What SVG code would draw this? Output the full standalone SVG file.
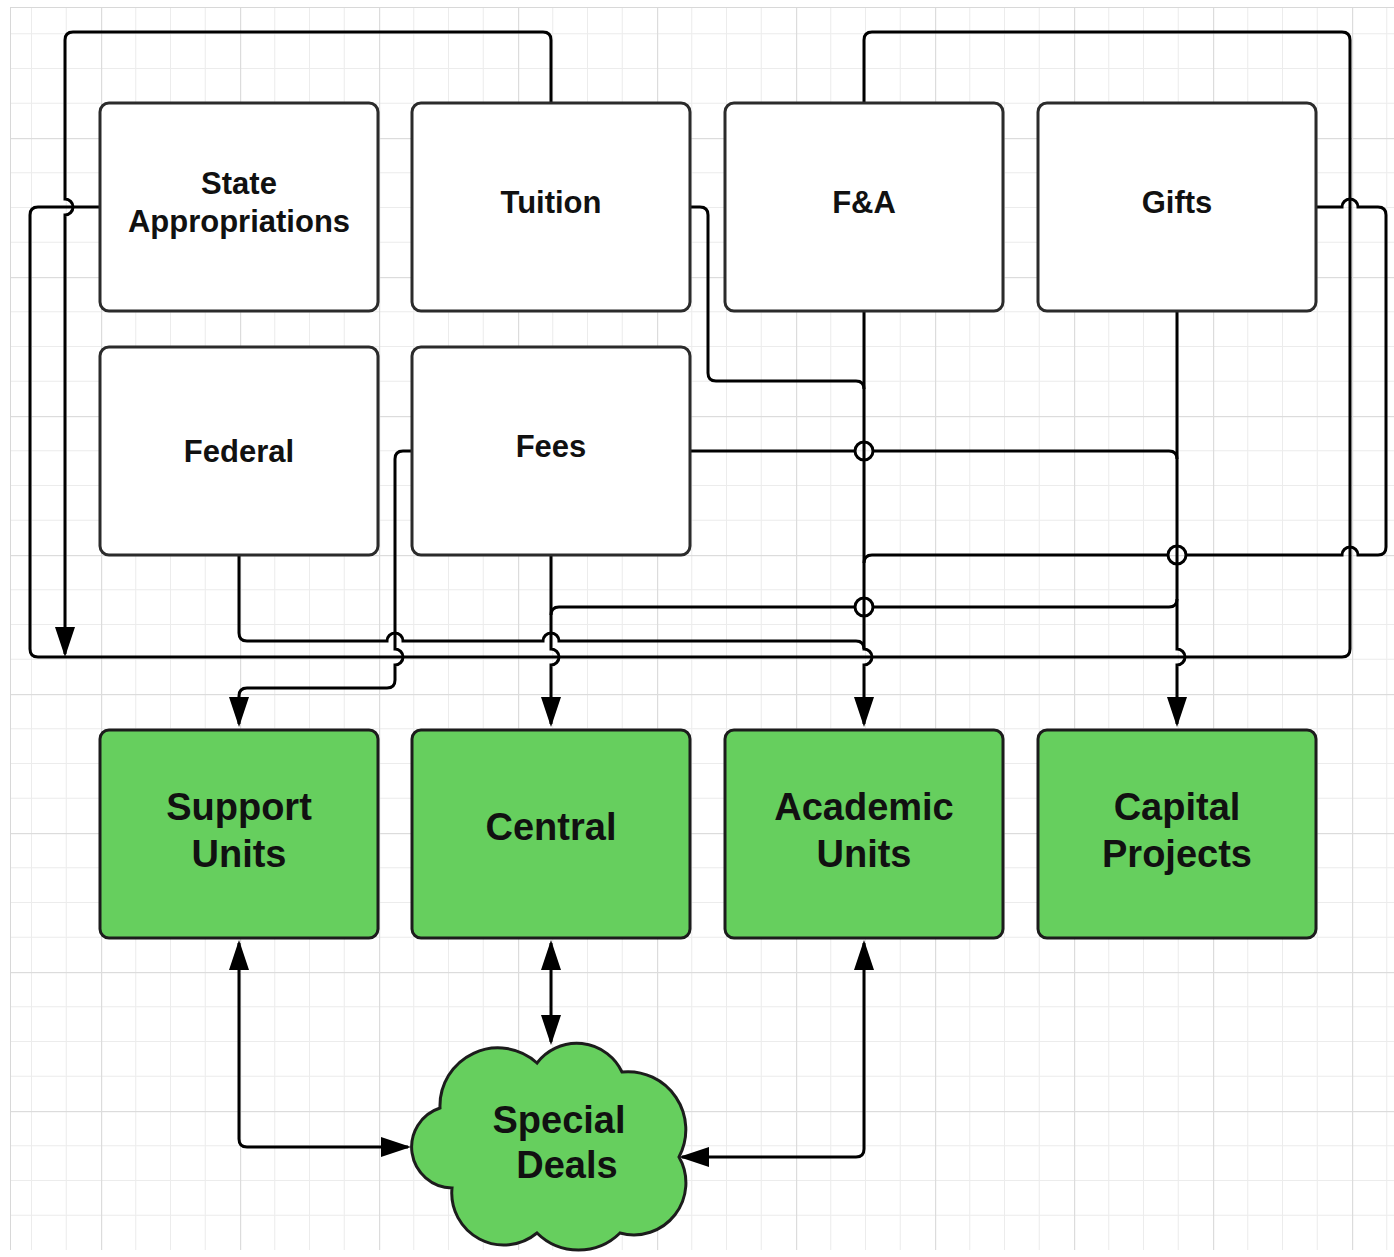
<svg xmlns="http://www.w3.org/2000/svg" width="1394" height="1257" viewBox="0 0 1394 1257">
<defs>
<style>
.box{fill:#fff;stroke:#2b2b2b;stroke-width:3}
.green{fill:#66cf5e;stroke:#1c1c1c;stroke-width:3}
.lbl{font-family:"Liberation Sans",Arial,sans-serif;font-weight:bold;font-size:31px;text-anchor:middle;fill:#111}
.big{font-size:38px}
.conn{fill:none;stroke:#000;stroke-width:3}
.arr{marker-end:url(#ah)}
.bi{marker-start:url(#ah);marker-end:url(#ah)}
</style>
<marker id="ah" markerUnits="userSpaceOnUse" viewBox="0 0 30 20" markerWidth="30" markerHeight="20" refX="27" refY="10" orient="auto-start-reverse">
<path d="M0,0L30,10L0,20z" fill="#000"/>
</marker>
<pattern id="grid" patternUnits="userSpaceOnUse" x="101" y="138" width="139" height="139">
<rect x="34.25" y="0" width="1" height="139" fill="#ececec"/>
<rect x="69" y="0" width="1" height="139" fill="#ececec"/>
<rect x="103.75" y="0" width="1" height="139" fill="#ececec"/>
<rect x="0" y="34.25" width="139" height="1" fill="#ececec"/>
<rect x="0" y="69" width="139" height="1" fill="#ececec"/>
<rect x="0" y="103.75" width="139" height="1" fill="#ececec"/>
<rect x="0" y="0" width="1.2" height="139" fill="#dcdcdc"/>
<rect x="0" y="0" width="139" height="1.2" fill="#dcdcdc"/>
</pattern>
</defs>
<rect x="0" y="0" width="1394" height="1257" fill="#fff"/>
<rect x="10" y="7" width="1384" height="1243" fill="url(#grid)"/>
<path d="M10.5,7V1250M10,7.5H1394" stroke="#d8d8d8" stroke-width="1" fill="none"/>

<g id="connectors">
<path class="conn arr" d="M551,103V40Q551,32 543,32H73Q65,32 65,40V199A8,8 0 0 1 65,215V654"/>
<path class="conn" d="M100,207H38Q30,207 30,215V649Q30,657 38,657H1342Q1350,657 1350,649V40Q1350,32 1342,32H872Q864,32 864,40V103"/>
<path class="conn" d="M690,207H700Q708,207 708,215V373Q708,381 716,381H856Q864,381 864,389"/>
<path class="conn arr" d="M864,311V649A8,8 0 0 1 864,665V724"/>
<path class="conn arr" d="M1177,311V649A8,8 0 0 1 1177,665V724"/>
<path class="conn arr" d="M551,555V649A8,8 0 0 1 551,665V724"/>
<path class="conn" d="M239,555V633Q239,641 247,641H387A8,8 0 0 1 403,641H543A8,8 0 0 1 559,641H856Q864,641 864,649"/>
<path class="conn arr" d="M412,451H403Q395,451 395,459V649A8,8 0 0 1 395,665V680Q395,688 387,688H247Q239,688 239,696V724"/>
<path class="conn" d="M690,451H855M873,451H1169Q1177,451 1177,459"/>
<path class="conn" d="M1316,207H1342A8,8 0 0 1 1358,207H1378Q1386,207 1386,215V547Q1386,555 1378,555H1358A8,8 0 0 0 1342,555H1186M1168,555H872Q864,555 864,563"/>
<path class="conn" d="M1177,599Q1177,607 1169,607H873M855,607H559Q551,607 551,615"/>
<circle class="conn" cx="864" cy="451" r="9"/>
<circle class="conn" cx="864" cy="607" r="9"/>
<circle class="conn" cx="1177" cy="555" r="9"/>
<path class="conn bi" d="M239,943V1139Q239,1147 247,1147H408"/>
<path class="conn bi" d="M551,943V1042"/>
<path class="conn bi" d="M864,943V1149Q864,1157 856,1157H682"/>
</g>

<g id="state-appropriations">
<rect class="box" x="100" y="103" width="278" height="208" rx="9"/>
<text class="lbl" x="239" y="194">State</text>
<text class="lbl" x="239" y="232">Appropriations</text>
</g>
<g id="tuition">
<rect class="box" x="412" y="103" width="278" height="208" rx="9"/>
<text class="lbl" x="551" y="213">Tuition</text>
</g>
<g id="fa">
<rect class="box" x="725" y="103" width="278" height="208" rx="9"/>
<text class="lbl" x="864" y="213">F&amp;A</text>
</g>
<g id="gifts">
<rect class="box" x="1038" y="103" width="278" height="208" rx="9"/>
<text class="lbl" x="1177" y="213">Gifts</text>
</g>
<g id="federal">
<rect class="box" x="100" y="347" width="278" height="208" rx="9"/>
<text class="lbl" x="239" y="462">Federal</text>
</g>
<g id="fees">
<rect class="box" x="412" y="347" width="278" height="208" rx="9"/>
<text class="lbl" x="551" y="457">Fees</text>
</g>
<g id="support-units">
<rect class="green" x="100" y="730" width="278" height="208" rx="9"/>
<text class="lbl big" x="239" y="820">Support</text>
<text class="lbl big" x="239" y="867">Units</text>
</g>
<g id="central">
<rect class="green" x="412" y="730" width="278" height="208" rx="9"/>
<text class="lbl big" x="551" y="840">Central</text>
</g>
<g id="academic-units">
<rect class="green" x="725" y="730" width="278" height="208" rx="9"/>
<text class="lbl big" x="864" y="820">Academic</text>
<text class="lbl big" x="864" y="867">Units</text>
</g>
<g id="capital-projects">
<rect class="green" x="1038" y="730" width="278" height="208" rx="9"/>
<text class="lbl big" x="1177" y="820">Capital</text>
<text class="lbl big" x="1177" y="867">Projects</text>
</g>
<g id="special-deals">
<path class="green" d="M440,1108A58,58 0 0 1 537,1063A50,50 0 0 1 622,1072A58,58 0 0 1 679,1157A52,52 0 0 1 620,1233A59,59 0 0 1 537,1233A52,52 0 0 1 452,1188A41,41 0 0 1 440,1108Z"/>
<text class="lbl big" x="559" y="1133">Special</text>
<text class="lbl big" x="567" y="1178">Deals</text>
</g>
</svg>
